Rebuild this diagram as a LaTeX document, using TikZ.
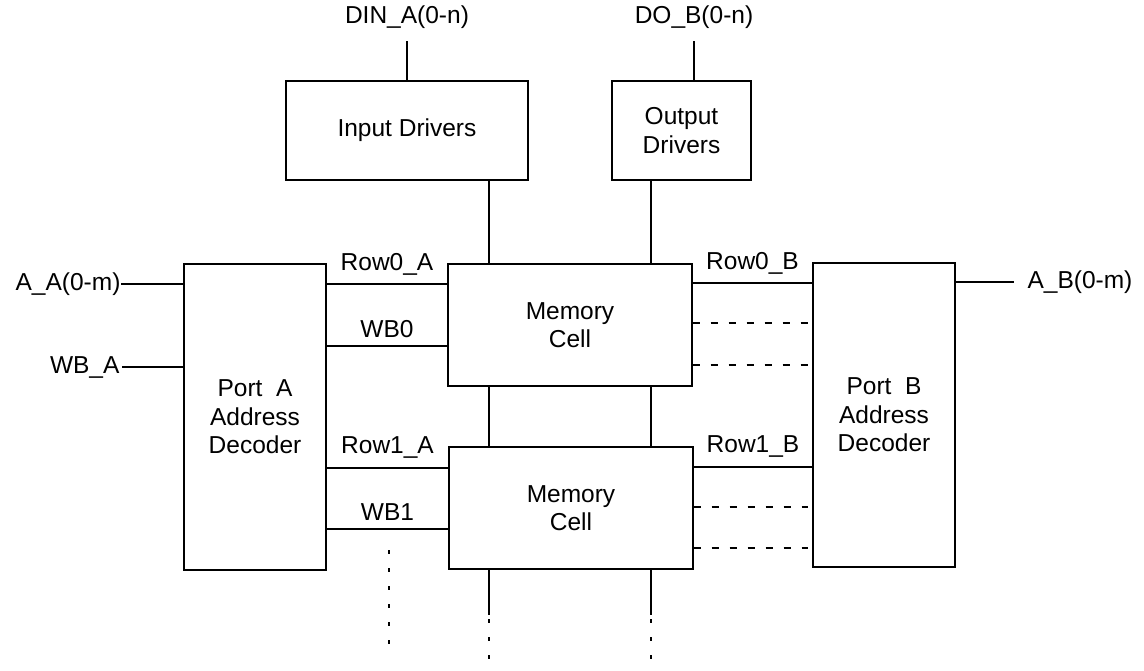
\documentclass[tikz,border=0pt]{standalone}
\usepackage{fontspec}
\setmainfont{Liberation Sans}
\usetikzlibrary{calc}
\begin{document}
\begin{tikzpicture}[x=1pt,y=-1pt,
  line width=1.1pt,
  every node/.style={font=\fontsize{24.5}{28.5}\selectfont},
  block/.style={draw,rectangle,inner sep=0pt,align=center},
  lbl/.style={inner sep=0pt},
  stub/.style={dash pattern=on 7pt off 11pt},
  vstub/.style={dash pattern=on 4pt off 14pt}]
\useasboundingbox (0,0) rectangle (1144,670);

% blocks
\node[block,minimum width=242pt,minimum height=99pt] (ind) at (407,130.5) {Input Drivers};
\node[block,minimum width=139pt,minimum height=99pt] (outd) at (681.5,130.5) {Output\\Drivers};
\node[block,minimum width=244pt,minimum height=122pt] (mc1) at (570,325) {Memory\\Cell};
\node[block,minimum width=244pt,minimum height=122pt] (mc2) at (571,508) {Memory\\Cell};
\node[block,minimum width=142pt,minimum height=306pt] (pa) at (255,417) {Port~~A\\Address\\Decoder};
\node[block,minimum width=142pt,minimum height=304pt] (pb) at (884,415) {Port~~B\\Address\\Decoder};

% data buses
\node[lbl] (din) at (407,17) {DIN\_A(0-n)};
\node[lbl] (dob) at (694,17) {DO\_B(0-n)};
\draw (din.south |- 0,41) -- (din.south |- ind.north);
\draw (dob.south |- 0,41) -- (dob.south |- outd.north);

% address / write inputs
\node[lbl,anchor=east] (aa) at (121,284) {A\_A(0-m)};
\node[lbl,anchor=east] (wba) at (120,367) {WB\_A};
\node[lbl,anchor=west] (ab) at (1027,282) {A\_B(0-m)};
\draw (aa.east) -- (pa.west |- aa.east);
\draw (wba.east) ++(2pt,0) -- (pa.west |- wba.east);
\draw (pb.east |- ab.west) -- ++(58,0);

% bit lines
\coordinate (bl) at (489,0);
\coordinate (br) at (651,0);
\draw (ind.south -| bl) -- (mc1.north -| bl);
\draw (outd.south -| br) -- (mc1.north -| br);
\draw (mc1.south -| bl) -- (mc2.north -| bl);
\draw (mc1.south -| br) -- (mc2.north -| br);
\coordinate (bb) at (0,615);
\draw (mc2.south -| bl) -- (bb -| bl);
\draw (mc2.south -| br) -- (bb -| br);
\draw[vstub] (bb -| bl) ++(0,4) -- (489,670);
\draw[vstub] (bb -| br) ++(0,4) -- (651,670);
\draw[vstub] (389,550) -- (389,648);

% port A word lines
\draw (pa.east |- 0,284) -- node[lbl,above=8pt] {Row0\_A} (mc1.west |- 0,284);
\draw (pa.east |- 0,346) -- node[lbl,above=8pt] {WB0} (mc1.west |- 0,346);
\draw (pa.east |- 0,468) -- node[lbl,above=9pt] {Row1\_A} (mc2.west |- 0,468);
\draw (pa.east |- 0,529) -- node[lbl,above=8pt] {WB1} (mc2.west |- 0,529);

% port B word lines
\draw (mc1.east |- 0,283) -- node[lbl,above=8pt] {Row0\_B} (pb.west |- 0,283);
\draw (mc2.east |- 0,467) -- node[lbl,above=9pt] {Row1\_B} (pb.west |- 0,467);
\foreach \yy in {323,365}
  \draw[stub] (mc1.east |- 0,\yy) -- ($(pb.west |- 0,\yy)+(-4,0)$);
\foreach \yy in {507,548}
  \draw[stub] (mc2.east |- 0,\yy) -- ($(pb.west |- 0,\yy)+(-4,0)$);
\end{tikzpicture}
\end{document}
